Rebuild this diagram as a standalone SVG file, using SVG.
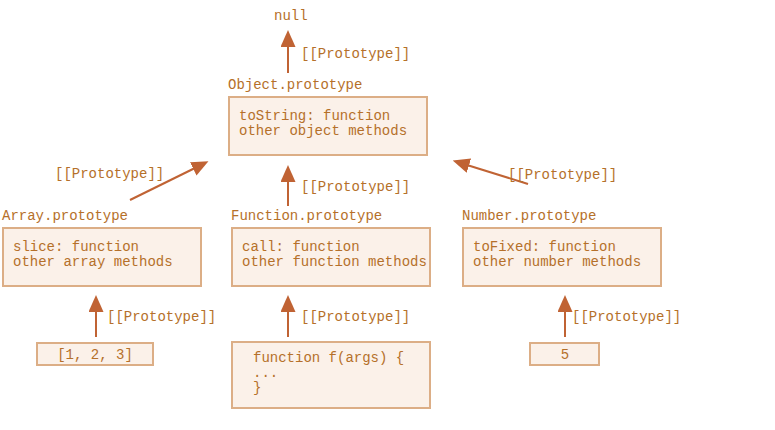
<svg xmlns="http://www.w3.org/2000/svg" width="775" height="430" viewBox="0 0 775 430">
<defs>
<style>
text{font-family:"Liberation Mono","DejaVu Sans Mono",monospace;font-size:14px;fill:#b5702a}
.box{fill:#fbf1e9;stroke:#dcae86;stroke-width:2}
.arr{stroke:#c06334;stroke-width:2;fill:none;marker-end:url(#ah)}
.c{text-anchor:middle}
</style>
<marker id="ah" viewBox="0 0 17 15" refX="2" refY="7.5" markerWidth="17" markerHeight="15" markerUnits="userSpaceOnUse" orient="auto">
<path d="M0,0 L17,7.5 L0,15 z" fill="#c06334"/>
</marker>
</defs>
<rect width="775" height="430" fill="#ffffff"/>
<g id="connectors">
<line class="arr" x1="288" y1="73" x2="288" y2="45"/>
<text x="301" y="58">[[Prototype]]</text>
<line class="arr" x1="130" y1="200" x2="195" y2="168"/>
<text x="55" y="178">[[Prototype]]</text>
<line class="arr" x1="288" y1="206" x2="288" y2="180"/>
<text x="301" y="191">[[Prototype]]</text>
<line class="arr" x1="528" y1="184" x2="467" y2="165"/>
<text x="508" y="179">[[Prototype]]</text>
<line class="arr" x1="96" y1="337" x2="96" y2="310"/>
<text x="107" y="321">[[Prototype]]</text>
<line class="arr" x1="288" y1="337" x2="288" y2="310"/>
<text x="301" y="321">[[Prototype]]</text>
<line class="arr" x1="565" y1="337" x2="565" y2="310"/>
<text x="572" y="321">[[Prototype]]</text>
</g>
<g id="null"><text x="274" y="20">null</text></g>
<g id="object-prototype">
<text x="228" y="89">Object.prototype</text>
<rect class="box" x="229" y="97" width="198" height="58"/>
<text x="239" y="120">toString: function</text>
<text x="239" y="135">other object methods</text>
</g>
<g id="array-prototype">
<text x="2" y="220">Array.prototype</text>
<rect class="box" x="3" y="228" width="198" height="58"/>
<text x="13" y="251">slice: function</text>
<text x="13" y="266">other array methods</text>
</g>
<g id="function-prototype">
<text x="231" y="220">Function.prototype</text>
<rect class="box" x="232" y="228" width="198" height="58"/>
<text x="242" y="251">call: function</text>
<text x="242" y="266">other function methods</text>
</g>
<g id="number-prototype">
<text x="462" y="220">Number.prototype</text>
<rect class="box" x="463" y="228" width="198" height="58"/>
<text x="473" y="251">toFixed: function</text>
<text x="473" y="266">other number methods</text>
</g>
<g id="array">
<rect class="box" x="37" y="343" width="116" height="22"/>
<text class="c" x="95" y="359">[1, 2, 3]</text>
</g>
<g id="function">
<rect class="box" x="232" y="342" width="198" height="66"/>
<text x="253" y="362">function f(args) {</text>
<text x="253" y="377">...</text>
<text x="253" y="392">}</text>
</g>
<g id="number">
<rect class="box" x="530" y="343" width="69" height="22"/>
<text class="c" x="565" y="359">5</text>
</g>
</svg>
